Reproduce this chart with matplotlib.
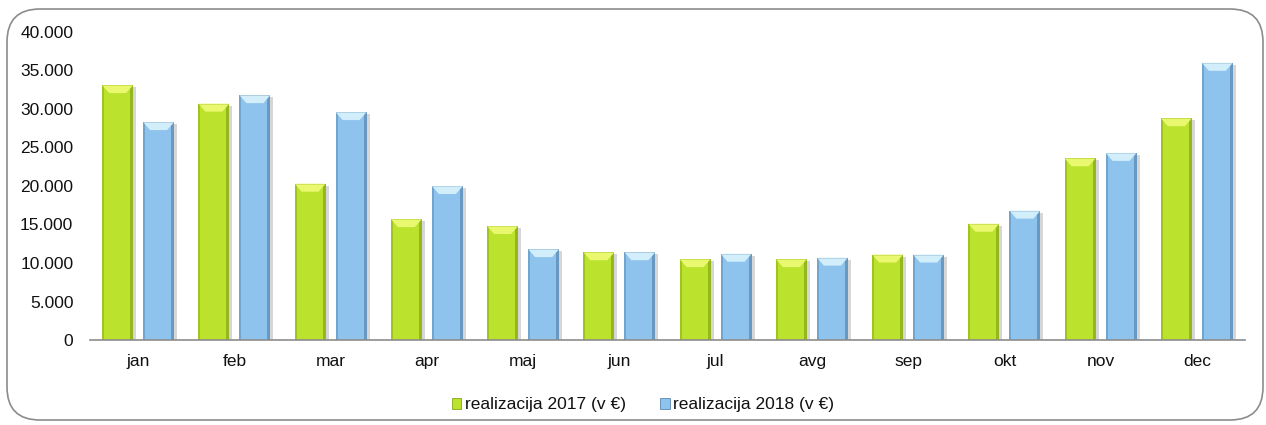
import matplotlib
matplotlib.use("Agg")
import matplotlib.pyplot as plt
from matplotlib.patches import Polygon, FancyBboxPatch, Patch
from matplotlib.ticker import FuncFormatter
import numpy as np

months = ["jan", "feb", "mar", "apr", "maj", "jun", "jul", "avg", "sep", "okt", "nov", "dec"]
real_2017 = [33100, 30700, 20300, 15700, 14800, 11400, 10500, 10500, 11100, 15100, 23600, 28800]
real_2018 = [28300, 31800, 29600, 20000, 11800, 11400, 11200, 10700, 11100, 16800, 24300, 36000]
series_labels = ["realizacija 2017 (v €)", "realizacija 2018 (v €)"]
yticks = [0, 5000, 10000, 15000, 20000, 25000, 30000, 35000, 40000]

plt.rcParams['font.family'] = ['Liberation Sans', 'DejaVu Sans']

W, H = 1266, 425
fig = plt.figure(figsize=(W / 100, H / 100), dpi=100)

# rounded outer border
border = FancyBboxPatch((7 / W, 5 / H), (1256 / W), (411 / H),
                        boxstyle="round,pad=0,rounding_size=0.026",
                        transform=fig.transFigure, facecolor="white",
                        edgecolor="#8c8c8c", linewidth=1.2, zorder=-5,
                        mutation_aspect=W / H)
fig.patches.append(border)

ax = fig.add_axes([90 / W, 85 / H, 1155 / W, 308 / H])
ax.set_facecolor("none")
ax.set_zorder(1)

x = np.arange(len(months))
bw = 0.322
off = 0.213
green, green_light, green_dark = "#BBE22C", "#E9F86E", "#86A519"
blue, blue_light, blue_dark = "#8DC3EC", "#D2EEFB", "#5B87AE"

xpp = 12 / 1155.0      # data units per pixel (x)
ypp = 40000 / 308.0    # data units per pixel (y)

b1 = ax.bar(x - off, real_2017, bw, color=green, zorder=3, linewidth=0)
b2 = ax.bar(x + off, real_2018, bw, color=blue, zorder=3, linewidth=0)


def decorate(bars, light, dark):
    for r in bars:
        x0 = r.get_x()
        w = r.get_width()
        h = r.get_height()
        x1 = x0 + w
        # shadow
        ax.add_patch(Polygon([(x1, 0), (x1 + 3 * xpp, 0), (x1 + 3 * xpp, h - 2 * ypp),
                              (x1, h - 2 * ypp)], closed=True, facecolor="#000000",
                             alpha=0.16, linewidth=0, zorder=2))
        # darker side edges
        ax.add_patch(Polygon([(x0, 0), (x0 + 2 * xpp, 0), (x0 + 2 * xpp, h), (x0, h)],
                             closed=True, facecolor=dark, alpha=0.5, linewidth=0, zorder=4))
        ax.add_patch(Polygon([(x1 - 3 * xpp, 0), (x1, 0), (x1, h), (x1 - 3 * xpp, h)],
                             closed=True, facecolor=dark, alpha=0.7, linewidth=0, zorder=4))
        # top bevel
        d = 7 * xpp
        hh = 8 * ypp
        ax.add_patch(Polygon([(x0, h), (x1, h), (x1 - d, h - hh), (x0 + d, h - hh)],
                             closed=True, facecolor=light, linewidth=0, zorder=5))
        ax.add_patch(Polygon([(x0, h), (x1, h), (x1, h - 1.0 * ypp), (x0, h - 1.0 * ypp)],
                             closed=True, facecolor=dark, alpha=0.25, linewidth=0, zorder=6))


decorate(b1, green_light, green_dark)
decorate(b2, blue_light, blue_dark)

ax.set_xlim(-0.5, len(months) - 0.5)
ax.set_ylim(0, 40000)
ax.set_yticks(yticks)
ax.yaxis.set_major_formatter(FuncFormatter(lambda v, p: f"{int(v):,}".replace(",", ".")))
ax.set_xticks(x)
ax.set_xticklabels(months)
ax.tick_params(axis="y", length=0, pad=12, labelsize=12.5, labelcolor="#111111")
ax.tick_params(axis="x", length=0, pad=10, labelsize=12.5, labelcolor="#111111")
for s in ["left", "right", "top"]:
    ax.spines[s].set_visible(False)
ax.spines["bottom"].set_color("#8c8c8c")
ax.spines["bottom"].set_linewidth(1.2)
ax.spines["bottom"].set_zorder(7)

handles = [Patch(facecolor=green, edgecolor=green_dark, linewidth=0.6),
           Patch(facecolor=blue, edgecolor=blue_dark, linewidth=0.6)]
fig.legend(handles, series_labels, loc="center", bbox_to_anchor=(643 / W, 20 / H),
           ncol=2, frameon=False, fontsize=12.5, handlelength=0.55, handleheight=0.55,
           handletextpad=0.2, columnspacing=2.0, labelcolor="#111111")

fig.savefig("out.png", dpi=100)
